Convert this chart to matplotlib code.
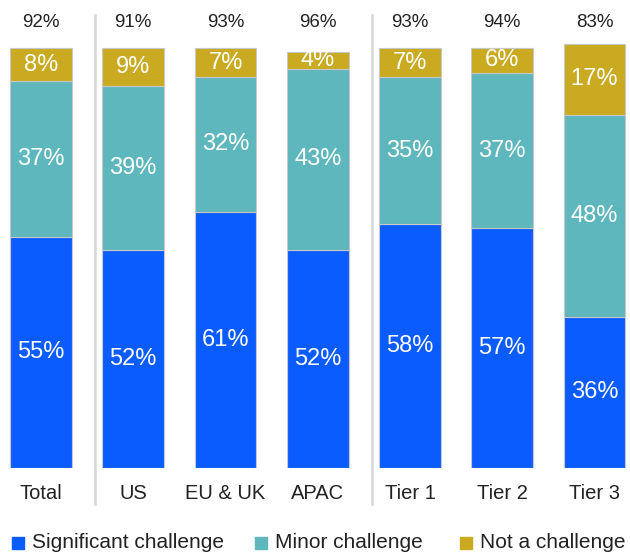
import matplotlib
matplotlib.use("Agg")
import matplotlib.pyplot as plt
from matplotlib.patches import Rectangle

plt.rcParams['font.family'] = ['Liberation Sans', 'DejaVu Sans']

groups = ["Total", "US", "EU & UK", "APAC", "Tier 1", "Tier 2", "Tier 3"]
significant = [55, 52, 61, 52, 58, 57, 36]
minor = [37, 39, 32, 43, 35, 37, 48]
not_challenge = [8, 9, 7, 4, 7, 6, 17]
totals = [92, 91, 93, 96, 93, 94, 83]

series_names = ["Significant challenge", "Minor challenge", "Not a challenge"]
colors = ["#0A5CFF", "#5EB7BC", "#C9AA21"]

fig = plt.figure(figsize=(6.3, 5.56), dpi=100)
ax = fig.add_axes([0, 88 / 556, 1, 458 / 556])

x = list(range(len(groups)))
bottom = [0] * len(groups)
for vals, col in zip([significant, minor, not_challenge], colors):
    bars = ax.bar(x, vals, width=0.67, bottom=bottom, color=col,
                  edgecolor="#c8c8c8", linewidth=0.8)
    for i, (v, b) in enumerate(zip(vals, bars)):
        t = ax.text(i, bottom[i] + v / 2, f"{v}%", ha="center", va="center",
                    color="white", fontsize=17)
        t.set_clip_path(b)
    bottom = [b + v for b, v in zip(bottom, vals)]

for i, t in enumerate(totals):
    ax.text(i, 106, f"{t}%", ha="center", va="center",
            color="#222222", fontsize=13.5)
    ax.text(i, -6, groups[i], ha="center", va="center",
            color="#222222", fontsize=14.5)

# dividers between total / regions / tiers
for sep in [0.585, 3.585]:
    ax.plot([sep, sep], [-8.6, 107.9], color="#d6d6d6", linewidth=1.8,
            clip_on=False)

ax.set_xlim(-0.444, 6.385)
ax.set_ylim(0, 109)
ax.axis("off")

# legend along the bottom
legend_x = [12, 255, 460]
for lx, name, col in zip(legend_x, series_names, colors):
    fig.patches.append(Rectangle((lx / 630, (556 - 549) / 556), 12 / 630, 12 / 556,
                                 transform=fig.transFigure, color=col))
    fig.text((lx + 20) / 630, (556 - 543) / 556, name, ha="left", va="center",
             fontsize=15, color="#222222")

fig.savefig("out.png", dpi=100)
